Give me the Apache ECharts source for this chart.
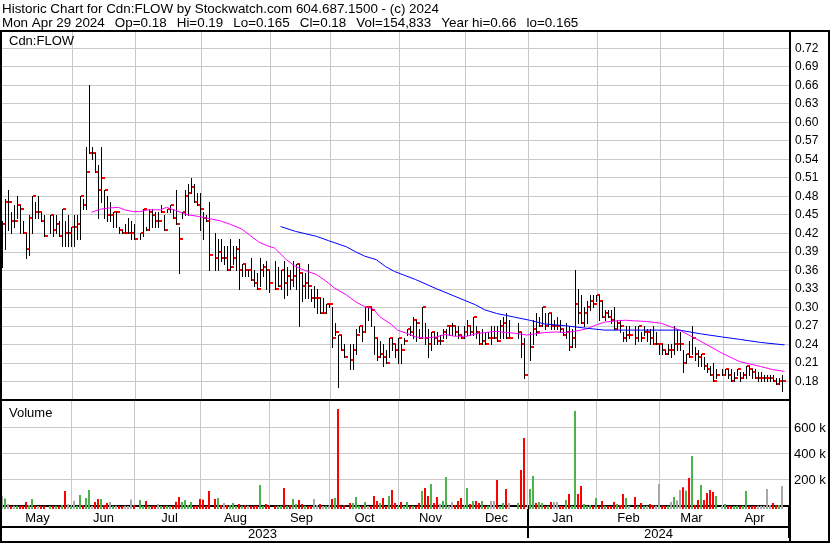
<!DOCTYPE html>
<html>
<head>
<meta charset="utf-8">
<script src="https://cdn.jsdelivr.net/npm/echarts@6.0.0/dist/echarts.min.js"></script>
<style>html,body{margin:0;padding:0;background:#fff}#chart{width:830px;height:543px}</style>
</head>
<body>
<div id="chart"></div>
<script>
// ---------------- DATA ----------------
const TITLE_LINE_1 = 'Historic Chart for Cdn:FLOW by Stockwatch.com 604.687.1500 - (c) 2024';
const TITLE_LINE_2_PARTS = ['Mon Apr 29 2024', 'Op=0.18', 'Hi=0.19', 'Lo=0.165', 'Cl=0.18', 'Vol=154,833', 'Year hi=0.66', 'lo=0.165'];
const SYMBOL_LABEL = 'Cdn:FLOW';
const VOLUME_LABEL = 'Volume';
const FIRST_DAY = '2023-04-28';
const LAST_DAY = '2024-04-30';
const MONTH_NAMES = ['Jan','Feb','Mar','Apr','May','Jun','Jul','Aug','Sep','Oct','Nov','Dec'];
const PRICE_TICKS = {min: 0.15, max: 0.75, step: 0.03};
const VOLUME_TICKS = [200000, 400000, 600000];

// one entry per weekday slot from 2023-04-28 to 2024-04-30 (null = no trade / holiday)
const highs = [null,.44,.475,.49,.455,.465,.48,.465,.44,.42,
.45,.48,.47,.48,.455,.45,null,.45,.45,.45,
.44,.46,.44,.45,.43,.45,.45,.48,.475,.56,
.66,.56,.55,.53,.56,.49,.48,.47,.455,.455,
.43,.425,.435,.445,.44,.435,null,.42,.46,.43,
.46,.46,.455,.455,.465,.45,.46,.465,.46,.49,
.43,.455,.49,.50,.51,.50,.485,.485,.455,.45,
.47,null,.42,.41,.41,.40,.40,.41,.40,.40,
.41,.37,.37,.36,.38,.36,.355,.38,.37,.375,
.36,null,.375,.365,.36,.375,.365,.36,.375,.37,
.37,.355,.355,.37,.33,.335,.33,.315,.315,.305,
.305,.30,.275,.255,.255,.24,null,.24,.24,.265,
.27,.27,.30,.30,.30,.27,.25,.245,.24,.23,
.25,.25,.24,.25,.24,.25,.265,.27,.285,.28,
.265,.30,.275,.265,.26,.26,.26,.255,.265,.265,
.27,.275,.27,.27,.255,.27,.28,.27,.285,.27,
.26,.265,.26,.26,.27,.27,.27,.28,.285,.29,
.28,null,null,.275,.26,.25,null,.26,.28,.29,
.285,.30,.29,.29,.29,.28,.285,.28,.265,.275,
.27,.265,.36,.33,.32,.30,.31,.32,.32,.32,
.32,.31,.295,.295,.295,.30,.28,.28,.26,.27,
.27,null,.27,.27,.26,.27,.265,.265,.27,.26,
.24,.24,.23,.24,.24,.27,.265,.26,.23,.225,
.245,.27,.235,.23,.225,.22,.21,.205,.21,.20,
null,.20,.20,.20,.20,.195,.20,.195,.195,.205,
.205,.20,.20,.195,.195,.19,.19,.19,.19,.185,
.185,.19,null];

const lows = [null,.365,.395,.425,.42,.43,.445,.42,.42,.38,
.385,.42,.445,.445,.44,.415,null,.42,.415,.42,
.415,.40,.40,.40,.40,.40,.41,.41,.46,.46,
.55,.54,.52,.445,.47,.445,.44,.44,.43,.43,
.42,.42,.42,.42,.41,.41,null,.41,.415,.425,
.425,.43,.43,.43,.455,.425,.455,.455,.445,.435,
.355,.445,.45,.45,.485,.47,.465,.425,.41,.44,
.36,null,.36,.36,.375,.37,.36,.36,.37,.36,
.33,.35,.35,.35,.345,.335,.33,.335,.35,.33,
.325,null,.33,.335,.33,.315,.32,.33,.335,.33,
.27,.31,.315,.315,.31,.30,.29,.29,.29,.29,
.30,.235,.255,.17,.23,.22,null,.20,.20,.225,
.26,.245,.26,.28,.27,.225,.215,.22,.205,.21,
.22,.23,.22,.21,.21,.24,.255,.255,.25,.245,
.25,.25,.24,.22,.23,.24,.24,.24,.25,.25,
.255,.255,.255,.25,.25,.25,.255,.255,.255,.25,
.24,.24,.24,.25,.24,.25,.245,.25,.25,.25,
.25,null,null,.25,.22,.185,null,.215,.24,.255,
.27,.27,.265,.27,.265,.265,.265,.26,.255,.25,
.23,.235,.235,.275,.275,.27,.275,.295,.30,.31,
.28,.285,.28,.285,.275,.265,.265,.26,.245,.245,
.25,null,.24,.245,.245,.255,.245,.24,.24,.24,
.225,.225,.225,.225,.22,.225,.23,.23,.195,.21,
.22,.225,.215,.205,.205,.20,.195,.19,.18,.185,
null,.19,.19,.185,.18,.18,.19,.18,.185,.185,
.19,.185,.185,.18,.18,.18,.18,.18,.18,.175,
.175,.165,null];

const closes = [null,.435,.47,.47,.44,.44,.465,.46,.42,.395,
.445,.48,.455,.455,.44,.415,null,.45,.425,.435,
.415,.46,.42,.42,.43,.43,.435,.48,.465,.52,
.55,.55,.52,.49,.51,.49,.45,.45,.455,.455,
.425,.42,.42,.42,.42,.41,null,.42,.46,.425,
.455,.45,.44,.44,.455,.425,.46,.465,.445,.435,
.41,.455,.48,.485,.495,.47,.465,.46,.445,.44,
.385,null,.38,.39,.38,.38,.36,.365,.38,.395,
.36,.37,.36,.36,.345,.34,.33,.36,.365,.36,
.34,null,.33,.335,.36,.34,.35,.345,.35,.37,
.355,.335,.34,.335,.315,.315,.315,.29,.29,.305,
.305,.25,.26,.255,.23,.22,null,.215,.23,.255,
.27,.26,.30,.30,.295,.25,.22,.225,.22,.21,
.25,.24,.23,.25,.23,.245,.265,.26,.28,.275,
.25,.30,.25,.24,.26,.25,.245,.245,.26,.27,
.27,.27,.26,.255,.25,.26,.27,.26,.285,.26,
.24,.245,.24,.25,.25,.25,.245,.27,.275,.25,
.25,null,null,.26,.24,.19,null,.235,.265,.26,
.27,.30,.27,.29,.27,.27,.27,.265,.255,.26,
.235,.25,.305,.29,.275,.29,.30,.31,.305,.32,
.31,.285,.29,.285,.28,.265,.275,.27,.25,.255,
.255,null,.25,.27,.25,.26,.26,.25,.24,.24,
.24,.23,.225,.23,.23,.24,.24,.24,.21,.225,
.22,.25,.225,.22,.225,.205,.20,.19,.18,.19,
null,.19,.20,.19,.18,.185,.20,.185,.19,.205,
.20,.195,.185,.185,.185,.185,.185,.185,.18,.175,
.18,.18,null];

const volumes = [null,77000,59000,15000,2000,2000,2000,2000,2000,31000,
8000,54000,5000,1000,2000,2000,null,1000,2000,2000,
2000,8000,116000,13000,2000,41000,2000,85000,8000,62000,
124000,2000,31000,54000,54000,8000,23000,31000,2000,2000,
2000,1000,2000,1000,51000,8000,null,46000,2000,39000,
1000,2000,2000,15000,1000,2000,2000,1000,2000,33000,
69000,31000,46000,8000,31000,1000,2000,54000,49000,2000,
116000,null,54000,62000,8000,23000,8000,8000,23000,2000,
15000,2000,8000,2000,2000,2000,2000,162000,2000,15000,
2000,null,2000,2000,2000,139000,2000,8000,54000,15000,
46000,15000,2000,1000,1000,54000,8000,15000,1000,2000,
2000,54000,62000,749000,2000,8000,null,23000,23000,69000,
2000,2000,31000,1000,2000,77000,39000,23000,62000,1000,
77000,124000,23000,1000,31000,2000,31000,2000,2000,1000,
23000,116000,139000,77000,170000,23000,69000,15000,39000,224000,
2000,31000,8000,39000,62000,1000,139000,15000,39000,39000,
23000,39000,2000,2000,39000,39000,201000,1000,23000,131000,
23000,null,null,23000,278000,525000,null,131000,232000,23000,
31000,23000,1000,2000,31000,31000,31000,1000,1000,46000,
93000,2000,734000,93000,154000,15000,2000,8000,2000,62000,
2000,39000,2000,1000,1000,31000,15000,8000,93000,62000,
2000,null,69000,2000,23000,2000,2000,15000,8000,2000,
170000,2000,2000,2000,31000,69000,44000,124000,144000,118000,
216000,386000,8000,46000,162000,46000,100000,124000,108000,77000,
null,2000,15000,2000,1000,1000,2000,2000,2000,116000,
2000,1000,2000,2000,2000,2000,131000,8000,23000,8000,
8000,154833,null];

// moving averages: [slot index, value]
const maShort = [[30,.454],[33,.459],[36,.461],[39,.462],[41,.458],[44,.455],[46,.455],[49,.458],[53,.458],[55,.462],
[58,.457],[62,.45],[66,.447],[70,.443],[73,.44],[76,.435],[80,.427],[83,.416],[86,.405],[89,.399],
[91,.396],[95,.377],[98,.366],[101,.36],[105,.353],[108,.343],[111,.331],[115,.32],[118,.309],[121,.301],
[124,.297],[126,.285],[130,.272],[132,.263],[135,.258],[138,.252],[141,.25],[145,.252],[148,.256],[151,.253],
[155,.253],[158,.257],[161,.259],[165,.261],[168,.259],[171,.258],[175,.255],[178,.257],[181,.259],[185,.26],
[188,.259],[191,.261],[195,.265],[198,.271],[201,.276],[205,.278],[208,.279],[211,.278],[215,.277],[220,.274],
[226,.263],[233,.245],[240,.226],[246,.212],[253,.204],[257,.199],[261,.196]];
const maLong = [[93,.431],[98,.423],[105,.415],[109,.408],[115,.398],[118,.39],[121,.383],[125,.377],[128,.366],[131,.358],
[138,.345],[145,.33],[151,.318],[158,.304],[161,.296],[165,.29],[168,.287],[171,.284],[176,.279],[181,.273],
[188,.27],[195,.266],[201,.263],[213,.263],[226,.263],[233,.257],[240,.252],[246,.248],[253,.243],[261,.239]];

// ---------------- BUILD ----------------
const FONT = 'Liberation Sans';
const GRID_GREY = '#c8c8c8';
const UP = '#4cb34c', DOWN = '#ff0000', FLAT = '#a8a8a8';
const TITLE_LINE_2 = TITLE_LINE_2_PARTS.join('  \u2009');

function weekdayDates(a, b) {
  const out = [];
  const d = new Date(a + 'T00:00:00Z');
  const end = new Date(b + 'T00:00:00Z').getTime();
  while (d.getTime() <= end) {
    const w = d.getUTCDay();
    if (w !== 0 && w !== 6) out.push(d.toISOString().slice(0, 10));
    d.setUTCDate(d.getUTCDate() + 1);
  }
  return out;
}
const dates = weekdayDates(FIRST_DAY, LAST_DAY);

function groupBy(len) {
  const groups = [];
  dates.forEach((d, i) => {
    const k = d.slice(0, len);
    const g = groups[groups.length - 1];
    if (g && g.key === k) g.last = i; else groups.push({key: k, first: i, last: i});
  });
  return groups;
}
const monthLabelAt = new Map();
groupBy(7).forEach(g => {
  if (g.last - g.first >= 5) monthLabelAt.set(Math.floor((g.first + g.last) / 2), MONTH_NAMES[+g.key.slice(5, 7) - 1]);
});
const yearGroups = groupBy(4);
const yearLabelAt = new Map();
yearGroups.forEach(g => yearLabelAt.set(Math.floor((g.first + g.last) / 2), g.key));
const yearStarts = new Set([0].concat(yearGroups.slice(1).map(g => g.first)));

const monthLines = new Set();
dates.forEach((d, i) => {
  if (i < 5) return;
  const t = new Date(d + 'T00:00:00Z');
  if (t.getUTCDate() === 1) { monthLines.add(i); return; }
  if (t.getUTCDay() === 5) {
    const d1 = new Date(t.getTime() + 86400000).getUTCDate();
    const d2 = new Date(t.getTime() + 2 * 86400000).getUTCDate();
    if (d1 === 1 || d2 === 1) monthLines.add(i);
  }
});

const priceData = [];
for (let i = 0; i < dates.length; i++) {
  if (highs[i] != null) priceData.push([i, highs[i], lows[i], closes[i]]);
}
const volData = [];
let prevClose = null;
for (let i = 0; i < dates.length; i++) {
  const c = closes[i];
  if (volumes[i] != null) {
    let dir = 0;
    if (prevClose != null && c != null) dir = c > prevClose + 1e-9 ? 1 : (c < prevClose - 1e-9 ? -1 : 0);
    volData.push([i, volumes[i], dir]);
  }
  if (c != null) prevClose = c;
}
const monthLineData = Array.from(monthLines).map(i => [i, 0]);
const LAST_INDEX = dates.length - 1;

const chart = echarts.init(document.getElementById('chart'), null, {renderer: 'canvas'});
const catBase = {type: 'category', data: dates, boundaryGap: true};
const option = {
  animation: false,
  backgroundColor: '#ffffff',
  grid: [
    {left: 0, right: 41, top: 29.7, height: 370.1, outerBoundsMode: 'none', containLabel: false},
    {left: 0, right: 41, top: 401, height: 108, outerBoundsMode: 'none', containLabel: false}
  ],
  xAxis: [
    Object.assign({}, catBase, {
      gridIndex: 0,
      axisLine: {show: true, lineStyle: {color: '#000', width: 2}},
      axisTick: {show: false}, axisLabel: {show: false},
      splitLine: {show: true, interval: (i) => monthLines.has(i), lineStyle: {color: GRID_GREY, width: 1}}
    }),
    Object.assign({}, catBase, {
      gridIndex: 1,
      axisLine: {show: true, lineStyle: {color: '#000', width: 2}},
      axisTick: {show: true, interval: (i) => yearStarts.has(i), length: 32, lineStyle: {color: '#000', width: 2}},
      axisLabel: {show: true, interval: (i) => monthLabelAt.has(i), formatter: (v, i) => monthLabelAt.get(i) || '',
        color: '#000', fontFamily: FONT, fontSize: 13, margin: 3},
      splitLine: {show: false}
    }),
    Object.assign({}, catBase, {
      gridIndex: 1, position: 'bottom', offset: 17.5,
      axisLine: {show: true, lineStyle: {color: '#000', width: 2}},
      axisTick: {show: false},
      axisLabel: {show: true, interval: (i) => yearLabelAt.has(i), formatter: (v, i) => yearLabelAt.get(i) || '',
        color: '#000', fontFamily: FONT, fontSize: 13, margin: 1.5},
      splitLine: {show: false}
    })
  ],
  yAxis: [
    {
      gridIndex: 0, type: 'value', position: 'right',
      min: PRICE_TICKS.min, max: PRICE_TICKS.max, interval: PRICE_TICKS.step,
      axisLine: {show: false}, axisTick: {show: false},
      axisLabel: {color: '#000', fontFamily: FONT, fontSize: 12, margin: 6,
        formatter: (v) => (v < PRICE_TICKS.min + 0.01 || v > PRICE_TICKS.max - 0.01) ? '' : v.toFixed(2)},
      splitLine: {show: true, showMinLine: false, showMaxLine: false, lineStyle: {color: GRID_GREY, width: 1}}
    },
    {
      gridIndex: 1, type: 'value', position: 'right',
      min: -23000, max: 811000,
      axisLine: {show: false},
      axisTick: {show: false, customValues: VOLUME_TICKS},
      axisLabel: {customValues: VOLUME_TICKS, color: '#000', fontFamily: FONT, fontSize: 13, margin: 5,
        formatter: (v) => Math.round(v / 1000) + ' k'},
      splitLine: {show: false}
    }
  ],
  series: [
    {
      // background grid of the volume pane: month lines through the category axis,
      // value lines through the volume axis (extents taken from the axes, not typed)
      type: 'custom', name: 'volume grid', xAxisIndex: 1, yAxisIndex: 1, silent: true, clip: false,
      data: monthLineData, encode: {x: 0, y: 1}, z: 1,
      renderItem: function (params, api) {
        const p = api.coord([api.value(0), 0]);
        const bw = api.size([1, 0])[0];
        const cs = params.coordSys;
        const x = Math.round(p[0] - bw / 2) - 1;
        const children = [{type: 'rect', shape: {x: x, y: cs.y, width: 1, height: cs.height}, style: {fill: GRID_GREY}}];
        if (params.dataIndex === 0) {
          VOLUME_TICKS.forEach(v => {
            const a = api.coord([0, v]);
            const b = api.coord([LAST_INDEX, v]);
            const left = a[0] - bw / 2;
            const right = b[0] + bw / 2;
            children.push({type: 'rect', shape: {x: left, y: Math.round(a[1]) - 1, width: right - left, height: 1},
              style: {fill: GRID_GREY}});
          });
        }
        return {type: 'group', children: children};
      }
    },
    {
      type: 'custom', name: 'price', xAxisIndex: 0, yAxisIndex: 0,
      data: priceData, encode: {x: 0, y: [1, 2, 3]}, z: 3,
      renderItem: function (params, api) {
        const i = api.value(0);
        const h = api.coord([i, api.value(1)]);
        const l = api.coord([i, api.value(2)]);
        const c = api.coord([i, api.value(3)]);
        const bw = api.size([1, 0])[0];
        const lx = h[0] - bw / 2 - 0.5;
        const cy = Math.round(c[1]);
        return {type: 'group', children: [
          {type: 'line', shape: {x1: lx, y1: Math.round(h[1]), x2: lx, y2: Math.round(l[1]) + 1},
            style: {stroke: '#000', lineWidth: 1}},
          {type: 'rect', shape: {x: lx + 0.5, y: cy - 1, width: bw, height: 2}, style: {fill: '#ff0000'}}
        ]};
      }
    },
    {
      type: 'line', name: 'MA short', xAxisIndex: 0, yAxisIndex: 0, data: maShort,
      showSymbol: false, symbol: 'none', z: 4, lineStyle: {color: '#ff00ff', width: 1}
    },
    {
      type: 'line', name: 'MA long', xAxisIndex: 0, yAxisIndex: 0, data: maLong,
      showSymbol: false, symbol: 'none', z: 4, lineStyle: {color: '#0000ff', width: 1}
    },
    {
      type: 'custom', name: 'volume', xAxisIndex: 1, yAxisIndex: 1,
      data: volData, encode: {x: 0, y: 1}, z: 3,
      renderItem: function (params, api) {
        const i = api.value(0);
        const top = api.coord([i, api.value(1)]);
        const bw = api.size([1, 0])[0];
        const cs = params.coordSys;
        const bottom = cs.y + cs.height;
        const dir = api.value(2);
        return {type: 'rect', shape: {x: top[0] - bw / 2 - 2, y: top[1], width: 2, height: bottom - top[1]},
          style: {fill: dir > 0 ? UP : (dir < 0 ? DOWN : FLAT)}};
      }
    }
  ],
  graphic: [
    {type: 'text', x: 2, y: 9, z: 100, style: {text: TITLE_LINE_1, fontFamily: FONT, fontSize: 13.4, fill: '#000', verticalAlign: 'middle'}},
    {type: 'text', x: 2, y: 23.5, z: 100, style: {text: TITLE_LINE_2, fontFamily: FONT, fontSize: 13.4, fill: '#000', verticalAlign: 'middle'}},
    {type: 'text', x: 9, y: 41, z: 100, style: {text: SYMBOL_LABEL, fontFamily: FONT, fontSize: 13, fill: '#000', verticalAlign: 'middle'}},
    {type: 'text', x: 9, y: 413, z: 100, style: {text: VOLUME_LABEL, fontFamily: FONT, fontSize: 13, fill: '#000', verticalAlign: 'middle'}},
    {type: 'rect', z: 100, shape: {x: 0, y: 30, width: 830, height: 2}, style: {fill: '#000'}},
    {type: 'rect', z: 100, shape: {x: 0, y: 541, width: 830, height: 2}, style: {fill: '#000'}},
    {type: 'rect', z: 100, shape: {x: 0, y: 30, width: 2, height: 513}, style: {fill: '#000'}},
    {type: 'rect', z: 100, shape: {x: 828, y: 30, width: 2, height: 513}, style: {fill: '#000'}},
    {type: 'rect', z: 100, shape: {x: 789, y: 30, width: 2, height: 513}, style: {fill: '#000'}}
  ]
};
chart.setOption(option);
</script>
</body>
</html>
